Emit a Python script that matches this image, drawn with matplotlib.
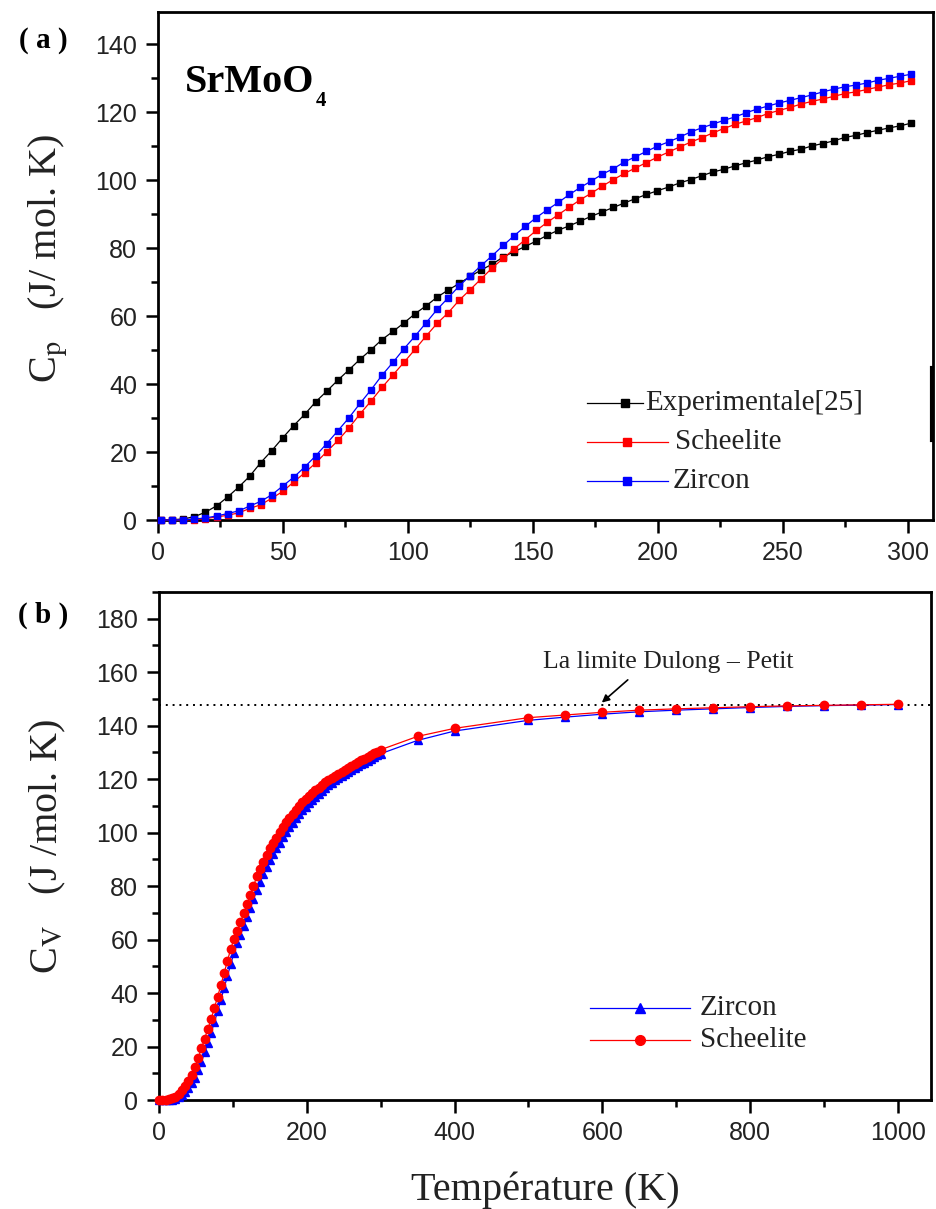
import matplotlib
matplotlib.use("Agg")
import matplotlib.pyplot as plt
from matplotlib.lines import Line2D

plt.rcParams['mathtext.fontset'] = 'stix'
SANS = 'Liberation Sans'
SERIF = 'Liberation Serif'

# ---------------- data: panel (a) Cp ----------------
T_a = [1.4, 5.8, 10.2, 14.6, 19.0, 23.5, 27.9, 32.3, 36.7, 41.1, 45.5, 49.9, 54.3, 58.7,
       63.1, 67.5, 72.0, 76.4, 80.8, 85.2, 89.6, 94.0, 98.4, 102.8, 107.2, 111.7, 116.1,
       120.5, 124.9, 129.3, 133.7, 138.1, 142.5, 146.9, 151.3, 155.7, 160.2, 164.6, 169.0,
       173.4, 177.8, 182.2, 186.6, 191.0, 195.4, 199.8, 204.3, 208.7, 213.1, 217.5, 221.9,
       226.3, 230.7, 235.1, 239.5, 243.9, 248.3, 252.8, 257.2, 261.6, 266.0, 270.4, 274.8,
       279.2, 283.6, 288.0, 292.5, 296.9, 301.3]
cp_exp = [0, 0.1, 0.3, 1.0, 2.3, 4.2, 6.8, 9.7, 12.9, 16.9, 20.4, 24.2, 27.8, 31.1,
          34.8, 37.9, 41.2, 44.2, 47.3, 50.1, 53.1, 55.5, 58.0, 60.7, 63.0, 65.6, 67.7,
          69.6, 71.7, 73.6, 75.3, 77.4, 79.0, 80.5, 82.1, 83.8, 85.3, 86.6, 88.0,
          89.4, 90.7, 92.0, 93.3, 94.6, 95.8, 96.9, 98.0, 99.2, 100.2, 101.3, 102.4,
          103.2, 104.2, 105.1, 105.9, 106.9, 107.6, 108.5, 109.1, 110.1, 110.8, 111.6, 112.6,
          113.2, 114.0, 114.7, 115.4, 116.0, 116.8]
cp_scheelite = [0, 0, 0, 0.1, 0.4, 0.9, 1.4, 2.1, 3.4, 4.5, 6.4, 8.4, 11.2, 13.9,
                16.8, 20.1, 23.4, 27.1, 31.2, 35.0, 39.0, 42.7, 46.4, 50.2, 54.1, 57.9, 61.0,
                64.7, 67.8, 71.0, 74.2, 77.0, 79.8, 82.5, 85.2, 87.6, 89.9, 92.1, 94.3,
                96.2, 98.3, 100.2, 102.0, 103.6, 105.2, 106.8, 108.3, 109.8, 111.2, 112.5, 113.9,
                115.2, 116.4, 117.4, 118.4, 119.6, 120.5, 121.4, 122.4, 123.2, 123.9, 124.7, 125.5,
                126.0, 126.7, 127.4, 128.1, 128.6, 129.3]
cp_zircon = [0, 0, 0.05, 0.3, 0.6, 1.2, 1.9, 2.7, 4.1, 5.5, 7.4, 10.0, 12.6, 15.6,
             18.9, 22.5, 26.3, 30.1, 34.3, 38.3, 42.6, 46.4, 50.4, 54.1, 58.0, 62.0, 65.4,
             68.9, 71.9, 74.9, 77.8, 80.8, 83.7, 86.4, 89.0, 91.3, 93.5, 95.8, 97.9,
             99.8, 101.8, 103.4, 105.4, 106.9, 108.5, 110.0, 111.3, 112.7, 114.2, 115.4, 116.5,
             117.6, 118.6, 119.8, 120.9, 121.8, 122.7, 123.5, 124.3, 125.1, 126.0, 126.8, 127.5,
             128.0, 128.6, 129.4, 130.0, 130.6, 131.2]

# ---------------- data: panel (b) Cv ----------------
T_b = [0, 4.4, 8.8, 13.2, 17.6, 22.1, 26.5, 30.9, 35.3, 39.7, 44.1, 48.5, 52.9, 57.4,
       61.8, 66.2, 70.6, 75.0, 79.4, 83.8, 88.2, 92.6, 97.1, 101.5, 105.9, 110.3, 114.7,
       119.1, 123.5, 127.9, 132.4, 136.8, 141.2, 145.6, 150.0, 154.4, 158.8, 163.2, 167.6,
       172.1, 176.5, 180.9, 185.3, 189.7, 194.1, 198.5, 202.9, 207.4, 211.8, 216.2, 220.6,
       225.0, 229.4, 233.8, 238.2, 242.6, 247.1, 251.5, 255.9, 260.3, 264.7, 269.1, 273.5,
       277.9, 282.4, 286.8, 291.2, 295.6, 300.0,
       350, 400, 500, 550, 600, 650, 700, 750, 800, 850, 900, 950, 1000]
cv_scheelite = [0, 0, 0, 0.2, 0.6, 1.3, 2.3, 3.7, 5.3, 7.0, 9.2, 12.3, 15.6, 19.3,
                23.0, 26.6, 30.3, 34.4, 38.7, 43.0, 47.5, 52.0, 56.5, 60.2, 63.3, 66.4, 70.0,
                73.2, 76.7, 80.0, 83.6, 86.5, 89.2, 91.8, 94.2, 96.2, 98.1, 100.3, 102.1,
                103.8, 105.5, 107.0, 108.6, 110.0, 111.3, 112.5, 113.7, 114.9, 115.8, 116.7, 117.8,
                118.8, 119.6, 120.4, 121.3, 122.0, 122.7, 123.5, 124.2, 124.9, 125.6, 126.3, 127.0,
                127.6, 128.3, 129.0, 129.6, 130.3, 131.0,
                136.0, 139.0, 143.0, 144.0, 145.0, 145.8, 146.3, 146.7, 147.1, 147.4, 147.6, 147.8, 148.0]
cv_zircon = [0, 0, 0, 0, 0.1, 0.4, 1.0, 1.9, 3.0, 4.4, 6.2, 8.4, 11.1, 14.3,
             17.8, 21.4, 25.2, 29.1, 33.2, 37.5, 41.9, 46.3, 50.8, 55.0, 58.6, 61.8, 65.2,
             68.5, 71.8, 75.1, 78.5, 81.6, 84.5, 87.2, 89.8, 92.1, 94.2, 96.3, 98.3,
             100.2, 102.0, 103.7, 105.3, 106.9, 108.3, 109.7, 111.0, 112.3, 113.5, 114.6, 115.7,
             116.7, 117.7, 118.6, 119.5, 120.3, 121.1, 121.9, 122.6, 123.4, 124.1, 124.8, 125.5,
             126.2, 126.9, 127.6, 128.3, 128.9, 129.5,
             134.5, 138.0, 142.0, 143.2, 144.3, 145.2, 145.8, 146.3, 146.8, 147.2, 147.5, 147.7, 147.9]
dulong_petit = 147.8

W, H = 937, 1209
fig = plt.figure(figsize=(W / 100, H / 100), dpi=100)


def px_axes(l, r, t, b):
    return [l / W, 1 - b / H, (r - l) / W, (b - t) / H]


def style_axes(ax):
    for s in ax.spines.values():
        s.set_linewidth(2.0)
    ax.tick_params(which='major', direction='out', length=9, width=1.8, labelsize=18,
                   pad=6, top=False, right=False)
    ax.tick_params(which='minor', direction='out', length=5, width=1.8, top=False, right=False)
    for lab in ax.get_xticklabels() + ax.get_yticklabels():
        lab.set_fontfamily(SANS)
        lab.set_color('#222222')


# ---------- panel (a) ----------
ax1 = fig.add_axes(px_axes(158, 933, 12, 520))
ms = 5
ax1.plot(T_a, cp_exp, '-s', color='black', lw=0.9, ms=ms, clip_on=False, zorder=3)
ax1.plot(T_a, cp_scheelite, '-s', color='red', lw=0.9, ms=ms, clip_on=False, zorder=3)
ax1.plot(T_a, cp_zircon, '-s', color='blue', lw=0.9, ms=ms, clip_on=False, zorder=4)
ax1.set_xlim(0, 310)
ax1.set_ylim(0, 149.5)
ax1.set_xticks([0, 50, 100, 150, 200, 250, 300])
ax1.set_xticks([25, 75, 125, 175, 225, 275], minor=True)
ax1.set_yticks([0, 20, 40, 60, 80, 100, 120, 140])
ax1.set_yticks([10, 30, 50, 70, 90, 110, 130], minor=True)
style_axes(ax1)


def axfrac(ax_l, ax_r, ax_t, ax_b, x, y):
    return (x - ax_l) / (ax_r - ax_l), (ax_b - y) / (ax_b - ax_t)


leg_a = [("Experimentale[25]", 'black', 403, 587, 643, 625, 645),
         ("Scheelite", 'red', 442, 587, 668, 627, 675),
         ("Zircon", 'blue', 481, 587, 668, 627, 673)]
for name, c, yy, x0, x1, xm, xt in leg_a:
    fx0, fy = axfrac(158, 933, 12, 520, x0, yy)
    fx1, _ = axfrac(158, 933, 12, 520, x1, yy)
    fxm, _ = axfrac(158, 933, 12, 520, xm, yy)
    fxt, _ = axfrac(158, 933, 12, 520, xt, yy)
    ax1.add_line(Line2D([fx0, fx1], [fy, fy], color=c, lw=0.9, transform=ax1.transAxes))
    ax1.add_line(Line2D([fxm], [fy], marker='s', ms=6, color=c, transform=ax1.transAxes))
    ax1.text(fxt, fy, name, transform=ax1.transAxes, fontsize=21, family=SERIF,
             va='center', ha='left', color='#222222')

fig.text(185 / W, 1 - 92 / H, "SrMoO", fontsize=29, family=SERIF, fontweight='bold',
         va='baseline', ha='left')
fig.text(316 / W, 1 - 106 / H, "4", fontsize=15, family=SERIF, fontweight='bold',
         va='baseline', ha='left')
fig.text(43 / W, 1 - 40 / H, "( a )", fontsize=21, family=SERIF, fontweight='bold',
         va='center', ha='center')
fig.text(48 / W, 1 - 258 / H, r"C$_{\rm p}$   (J/ mol. K)", fontsize=29, family=SERIF,
         rotation=90, va='center', ha='center', color='#222222')

# odd black bar at right edge of panel (a)
fig.add_artist(Line2D([932 / W, 932 / W], [1 - 368 / H, 1 - 440 / H], color='black', lw=3))

# ---------- panel (b) ----------
ax2 = fig.add_axes(px_axes(159, 931, 592, 1100))
ax2.plot(T_b, cv_zircon, '-^', color='blue', lw=0.9, ms=6, clip_on=False, zorder=3)
ax2.plot(T_b, cv_scheelite, '-o', color='red', lw=0.9, ms=6, clip_on=False, zorder=4)
ax2.axhline(dulong_petit, color='black', ls=(0, (1, 2.5)), lw=1.4, zorder=2)
ax2.set_xlim(0, 1045)
ax2.set_ylim(0, 190)
ax2.set_xticks([0, 200, 400, 600, 800, 1000])
ax2.set_xticks([100, 300, 500, 700, 900], minor=True)
ax2.set_yticks(list(range(0, 181, 20)))
ax2.set_yticks(list(range(10, 191, 20)), minor=True)
style_axes(ax2)

ax2.annotate("La limite Dulong \u2013 Petit", xy=(598, dulong_petit + 0.5), xytext=(690, 164),
             textcoords='data', fontsize=18.5, family=SERIF, ha='center', va='center',
             color='#222222',
             arrowprops=dict(arrowstyle='-|>', color='black', lw=1.2,
                             shrinkA=5, shrinkB=1, mutation_scale=11,
                             relpos=(0.37, 0.0)))

leg_b = [("Zircon", 'blue', '^', 1008), ("Scheelite", 'red', 'o', 1040)]
for name, c, mk, yy in leg_b:
    fx0, fy = axfrac(159, 931, 592, 1100, 590, yy)
    fx1, _ = axfrac(159, 931, 592, 1100, 690, yy)
    fxm, _ = axfrac(159, 931, 592, 1100, 640, yy)
    fxt, _ = axfrac(159, 931, 592, 1100, 700, yy)
    ax2.add_line(Line2D([fx0, fx1], [fy, fy], color=c, lw=0.9, transform=ax2.transAxes))
    ax2.add_line(Line2D([fxm], [fy], marker=mk, ms=7, color=c, transform=ax2.transAxes))
    ax2.text(fxt, fy, name, transform=ax2.transAxes, fontsize=21, family=SERIF,
             va='center', ha='left', color='#222222')

fig.text(43 / W, 1 - 615 / H, "( b )", fontsize=21, family=SERIF, fontweight='bold',
         va='center', ha='center')
fig.text(48 / W, 1 - 846 / H, r"C$_{\rm V}$   (J /mol. K)", fontsize=29, family=SERIF,
         rotation=90, va='center', ha='center', color='#222222')
fig.text(545 / W, 1 - 1190 / H, "Température (K)", fontsize=29, family=SERIF,
         va='center', ha='center', color='#222222')

fig.savefig("out.png", dpi=100)
